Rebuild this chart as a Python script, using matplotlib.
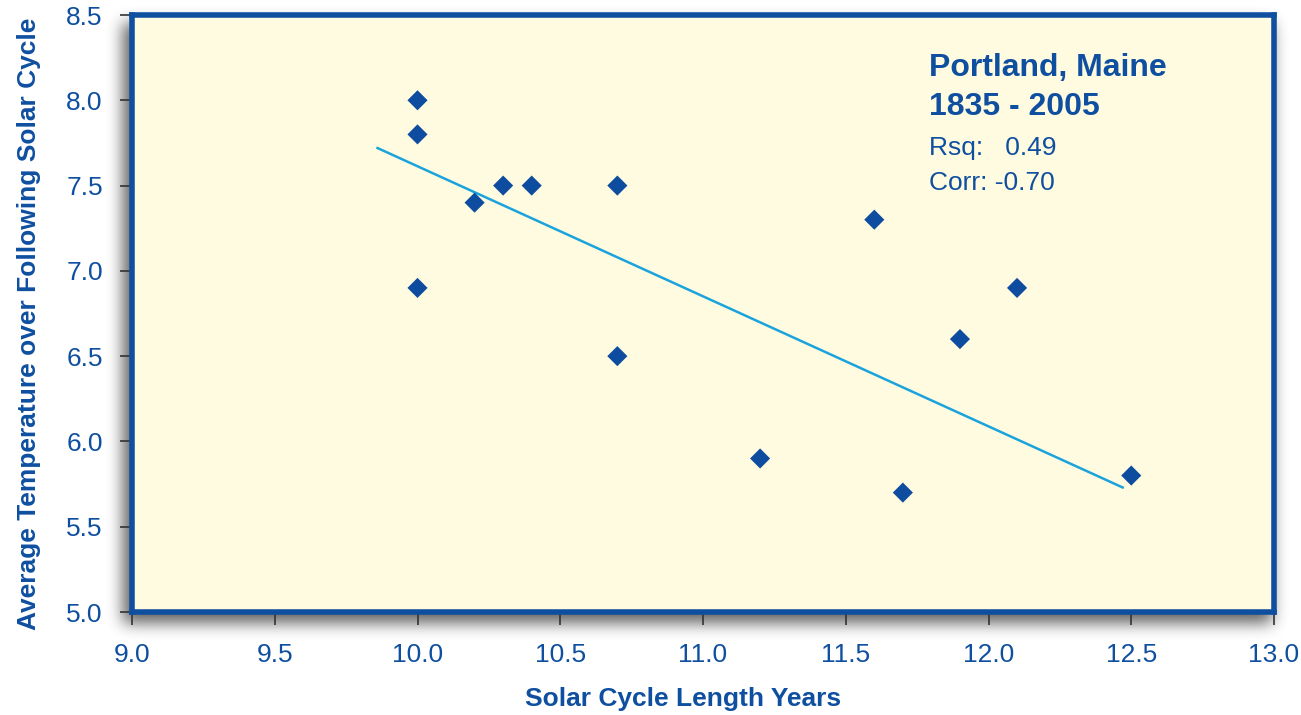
import numpy as np
import matplotlib
matplotlib.use("Agg")
import matplotlib.pyplot as plt

# Solar cycle length (years) vs. average temperature over the following cycle
cycle_length = [10.0, 10.0, 10.0, 10.2, 10.3, 10.4, 10.7, 10.7, 11.2, 11.6, 11.7, 11.9, 12.1, 12.5]
avg_temp = [8.0, 7.8, 6.9, 7.4, 7.5, 7.5, 7.5, 6.5, 5.9, 7.3, 5.7, 6.6, 6.9, 5.8]

# linear trend line end points
trend_x = [9.86, 12.47]
trend_y = [7.72, 5.73]

x_ticks = [9.0, 9.5, 10.0, 10.5, 11.0, 11.5, 12.0, 12.5, 13.0]
y_ticks = [5.0, 5.5, 6.0, 6.5, 7.0, 7.5, 8.0, 8.5]

title_lines = ["Portland, Maine", "1835 - 2005"]
stat_lines = ["Rsq:   0.49", "Corr: -0.70"]

BLUE = "#0f4fa0"
MARKER = "#0d4c9f"
TREND = "#1aa3dc"
PANEL = "#fffbe0"

plt.rcParams["font.family"] = ["Liberation Sans", "DejaVu Sans"]

W, H = 1301, 715
fig = plt.figure(figsize=(W / 100, H / 100), dpi=100)
fig.patch.set_facecolor("white")

left, right, bottom, top = 132 / W, 1274 / W, 1 - 612 / H, 1 - 15 / H

# soft drop shadow behind the plot panel
shadow = np.zeros((H, W))
x0, x1 = 132 - 9, 1274 - 2
y0, y1 = 15 + 8, 612 + 11
shadow[y0:y1, x0:x1] = 1.0
k = 15
kern = np.ones(k) / k
for _ in range(3):
    shadow = np.apply_along_axis(lambda r: np.convolve(r, kern, mode="same"), 1, shadow)
    shadow = np.apply_along_axis(lambda c: np.convolve(c, kern, mode="same"), 0, shadow)
rgba = np.zeros((H, W, 4))
rgba[..., :3] = 0.22
rgba[..., 3] = shadow * 0.8
fig.figimage(rgba[::-1], xo=0, yo=0, origin="lower", zorder=0)

ax = fig.add_axes([left, bottom, right - left, top - bottom], zorder=1)
ax.set_facecolor(PANEL)
ax.set_xlim(9.0, 13.0)
ax.set_ylim(5.0, 8.5)
ax.set_xticks(x_ticks)
ax.set_yticks(y_ticks)
ax.set_xticklabels([f"{v:.1f}" for v in x_ticks])
ax.set_yticklabels([f"{v:.1f}" for v in y_ticks])
ax.tick_params(axis="both", direction="out", length=9, width=1.2, color="#333333",
               labelcolor=BLUE, labelsize=19)
ax.tick_params(axis="x", pad=13)
ax.tick_params(axis="y", pad=12)
for s in ax.spines.values():
    s.set_color(BLUE)
    s.set_linewidth(4)

ax.scatter(cycle_length, avg_temp, marker="D", s=105, color=MARKER, edgecolors="none", zorder=3)
ax.plot(trend_x, trend_y, color=TREND, linewidth=1.8, zorder=2)

ax.set_xlabel("Solar Cycle Length Years", fontsize=19, fontweight="bold", color=BLUE)
ax.set_ylabel("Average Temperature over Following Solar Cycle", fontsize=19, fontweight="bold",
              color=BLUE)
ax.xaxis.set_label_coords((683 - 132) / 1142, (612 - 687) / 597)
ax.yaxis.set_label_coords((41 - 132) / 1142, (612 - 323.5) / 597)

tx0 = 929 / W
rows = [(title_lines[0], 76, 23, "bold"), (title_lines[1], 115, 23, "bold"),
        (stat_lines[0], 155, 19, "normal"), (stat_lines[1], 190, 19, "normal")]
for txt, base, size, weight in rows:
    fig.text(tx0, 1 - base / H, txt, fontsize=size, fontweight=weight,
             color=BLUE, va="baseline", ha="left")

fig.savefig("out.png", dpi=100)
